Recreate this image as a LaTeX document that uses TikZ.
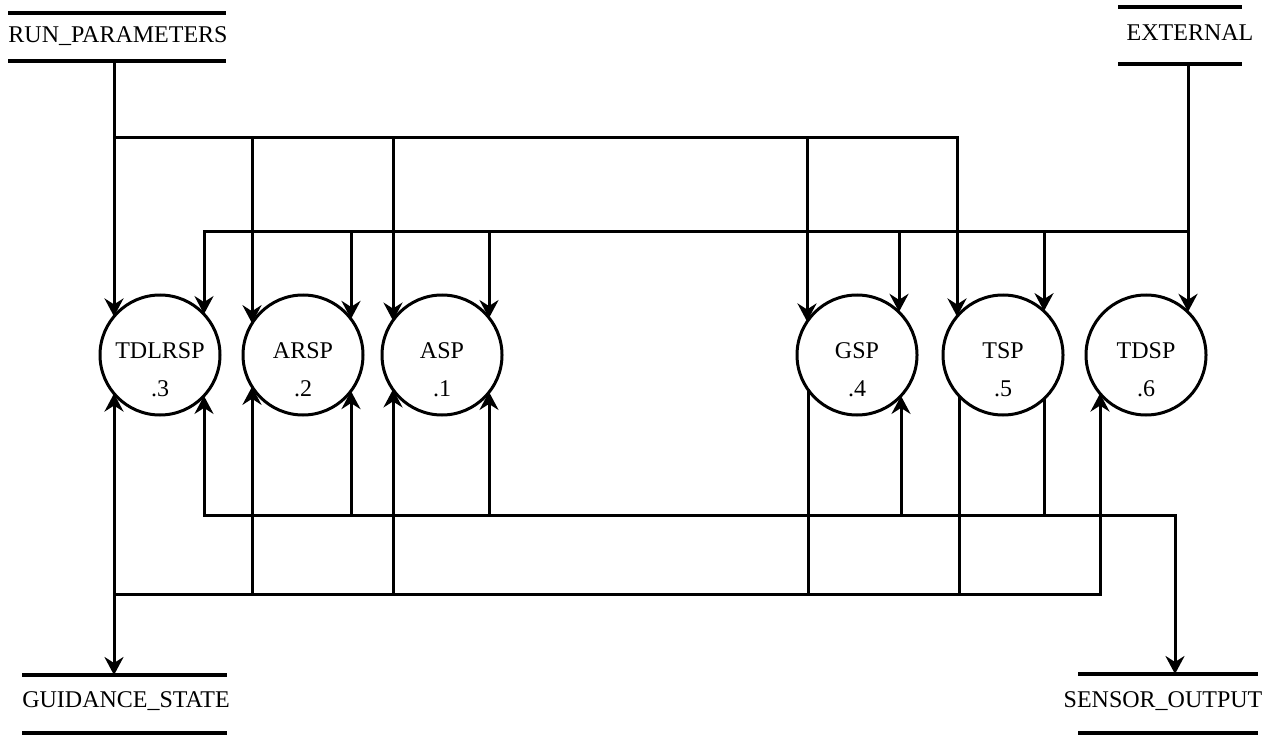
\documentclass[tikz,border=0pt]{standalone}
\usepackage{fontspec}
\setmainfont{Liberation Serif}
\usetikzlibrary{arrows.meta}
\begin{document}
\begin{tikzpicture}[x=1pt,y=-1pt,
  proc/.style={circle, draw, minimum size=120pt, inner sep=0pt, outer sep=0pt, line width=3pt},
  lbl/.style={font=\fontsize{24}{28}\selectfont, inner sep=0pt, anchor=base},
  flow/.style={line width=3pt},
  tip/.style={},
  arr/.style={flow, -{Stealth[length=18pt,width=19pt,inset=6pt]}},
  dblarr/.style={flow, {Stealth[length=18pt,width=19pt,inset=6pt]}-{Stealth[length=18pt,width=19pt,inset=6pt]}},
  store/.style={line width=3.2pt},
]
\useasboundingbox (0,0) rectangle (1284,735);

% data stores
\draw[store] (8,13) -- (226,13);
\draw[store] (8,61) -- (226,61);
\node[lbl] (run) at (118,43) {RUN\_PARAMETERS};
\draw[store] (1118,7) -- (1242,7);
\draw[store] (1118,64) -- (1242,64);
\node[lbl] (ext) at (1190,41) {EXTERNAL};
\draw[store] (22,675) -- (227,675);
\draw[store] (22,733) -- (227,733);
\node[lbl] (gs) at (126,707) {GUIDANCE\_STATE};
\draw[store] (1078,674) -- (1258,674);
\draw[store] (1078,733) -- (1258,733);
\node[lbl] (so) at (1163,707) {SENSOR\_OUTPUT};

\coordinate (runout) at (114,61);
\coordinate (extout) at (1188,64);
\coordinate (gsin) at (114,675);
\coordinate (soin) at (1175,674);

% processes
\node[proc] (p3) at (160,355) {};
\node[proc] (p2) at (303,355) {};
\node[proc] (p1) at (442,355) {};
\node[proc] (p4) at (857,355) {};
\node[proc] (p5) at (1003,355) {};
\node[proc] (p6) at (1146,355) {};
\node[lbl] (p3t) at (160,358) {TDLRSP};
\node[lbl] (p3n) at (160,396) {.3};
\node[lbl] (p2t) at (303,358) {ARSP};
\node[lbl] (p2n) at (303,396) {.2};
\node[lbl] (p1t) at (442,358) {ASP};
\node[lbl] (p1n) at (442,396) {.1};
\node[lbl] (p4t) at (857,358) {GSP};
\node[lbl] (p4n) at (857,396) {.4};
\node[lbl] (p5t) at (1003,358) {TSP};
\node[lbl] (p5n) at (1003,396) {.5};
\node[lbl] (p6t) at (1146,358) {TDSP};
\node[lbl] (p6n) at (1146,396) {.6};

% bus coordinates
\coordinate (a0) at (114,138);
\coordinate (a1) at (252,138);
\coordinate (a2) at (393,138);
\coordinate (a3) at (807,138);
\coordinate (a4) at (957,138);

\coordinate (b0) at (204,232);
\coordinate (b1) at (351,232);
\coordinate (b2) at (489,232);
\coordinate (b3) at (899,232);
\coordinate (b4) at (1044,232);
\coordinate (b5) at (1188,232);

\coordinate (c0) at (204,515);
\coordinate (c1) at (351,515);
\coordinate (c2) at (489,515);
\coordinate (c3) at (901,515);
\coordinate (c4) at (1044,515);
\coordinate (c5) at (1175,515);

\coordinate (d0) at (114,594);
\coordinate (d1) at (252,594);
\coordinate (d2) at (393,594);
\coordinate (d3) at (808,594);
\coordinate (d4) at (959,594);
\coordinate (d5) at (1100,594);

% RUN_PARAMETERS bus
\draw[arr] (runout) -- (runout |- p3.140);
\draw[arr] (a0) -- (a4) -- (a4 |- p5.140);
\draw[arr] (a1) -- (a1 |- p2.148);
\draw[arr] (a2) -- (a2 |- p1.145);
\draw[arr] (a3) -- (a3 |- p4.146);

% EXTERNAL bus
\draw[arr] (extout) -- (extout |- p6.46);
\draw[arr] (b5) -- (b0) -- (b0 |- p3.43);
\draw[arr] (b1) -- (b1 |- p2.37);
\draw[arr] (b2) -- (b2 |- p1.38);
\draw[arr] (b3) -- (b3 |- p4.46);
\draw[arr] (b4) -- (b4 |- p5.47);

% SENSOR_OUTPUT bus
\draw[dblarr] (c0 |- p3.-43) -- (c0) -- (c5) -- (soin);
\draw[arr] (c1) -- (c1 |- p2.-37);
\draw[arr] (c2) -- (c2 |- p1.-38);
\draw[arr] (c3) -- (c3 |- p4.-43);
\draw[flow] (c4 |- p5.-47) -- (c4);

% GUIDANCE_STATE bus
\draw[dblarr] (d0 |- p3.-140) -- (gsin);
\draw[arr] (d0) -- (d5) -- (d5 |- p6.-140);
\draw[arr] (d1) -- (d1 |- p2.-148);
\draw[arr] (d2) -- (d2 |- p1.-145);
\draw[flow] (d3 |- p4.-145) -- (d3);
\draw[flow] (d4 |- p5.-137) -- (d4);
\end{tikzpicture}
\end{document}
